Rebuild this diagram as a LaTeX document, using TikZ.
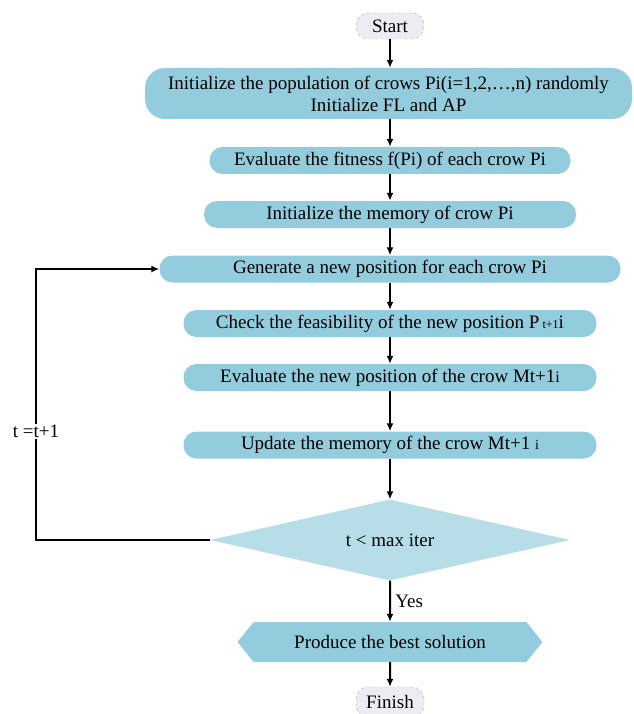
\documentclass[tikz,border=0pt]{standalone}
\usepackage{fontspec}
\setmainfont{Liberation Serif}
\usetikzlibrary{shapes.geometric, shapes.symbols, arrows.meta}

\begin{document}
\begin{tikzpicture}[
    x=1pt, y=-1pt,
    >={Latex[length=8pt,width=7pt]},
    font=\fontsize{19}{22}\selectfont,
    flow/.style={line width=2pt, ->},
    terminal/.style={
        draw=gray!70, dashed, fill=termfill, rounded corners=12pt,
        minimum width=68pt, inner sep=2pt
    },
    stepbox/.style={
        fill=boxfill, rounded corners=13pt, minimum height=27pt,
        align=center, inner sep=2pt
    },
    decision/.style={
        diamond, aspect=4.44, fill=diafill, minimum width=360pt,
        minimum height=81pt, inner sep=0pt
    },
    output/.style={
        signal, signal to=east and west, signal pointer angle=102,
        fill=boxfill, minimum width=305pt, minimum height=40pt
    }
]
\definecolor{boxfill}{HTML}{93CDDD}
\definecolor{diafill}{HTML}{B7DDE8}
\definecolor{termfill}{HTML}{EEECF3}

\useasboundingbox (0,0) rectangle (633,714);

% -------------------------
% Nodes
% -------------------------

% Start
\node[terminal, minimum height=26pt] (start) at (390, 26) {Start};

% Initialization
\node[stepbox, minimum width=487pt, minimum height=51pt, rounded corners=20pt] (init) at (388.5, 93.5) {
    Initialize the population of crows Pi(i=1,2,\dots,n) randomly \\
    Initialize FL and AP
};

% Fitness
\node[stepbox, minimum width=361pt] (fitness) at (390, 160.5) {Evaluate the fitness f(Pi) of each crow Pi};

% Memory
\node[stepbox, minimum width=372pt] (memory) at (390, 214.5) {Initialize the memory of crow Pi};

% Generate
\node[stepbox, minimum width=461pt] (generate) at (390, 269) {Generate a new position for each crow Pi};

% Check
\node[stepbox, minimum width=413pt] (check) at (390, 323.5) {Check the feasibility of the new position P\,{\fontsize{12}{14}\selectfont t+1}i};

% Evaluate new
\node[stepbox, minimum width=413pt] (evalnew) at (390, 377.5) {Evaluate the new position of the crow Mt+1{\fontsize{16}{18}\selectfont i}};

% Update
\node[stepbox, minimum width=413pt] (update) at (390, 445) {Update the memory of the crow Mt+1 {\fontsize{14}{16}\selectfont i}};

% Decision
\node[decision] (check2) at (390, 540) {t < max iter};

% Best solution
\node[output] (best) at (390, 642) {Produce the best solution};

% Finish
\node[terminal, minimum height=30pt] (finish) at (390, 702) {Finish};

% Loop corners
\coordinate (loopdown) at (36, 540);
\coordinate (loopup) at (36, 269);

% -------------------------
% Connections
% -------------------------

\draw[flow] (start) -- (init.north -| start);
\draw[flow] (init.south -| start) -- (fitness);
\draw[flow] (fitness) -- (memory);
\draw[flow] (memory) -- (generate);
\draw[flow] (generate) -- (check);
\draw[flow] (check) -- (evalnew);
\draw[flow] (evalnew) -- (update);
\draw[flow] (update) -- (check2);
\draw[flow] (check2) -- (best)
    node[midway, right=1pt] {Yes};
\draw[flow] (best) -- (finish);

% t < max iter -> generate
\draw[flow] (check2.west) -- (loopdown) -- (loopup)
    node[pos=0.4, fill=white, inner sep=1pt] {t =t+1} -- (generate.west);

\end{tikzpicture}
\end{document}
